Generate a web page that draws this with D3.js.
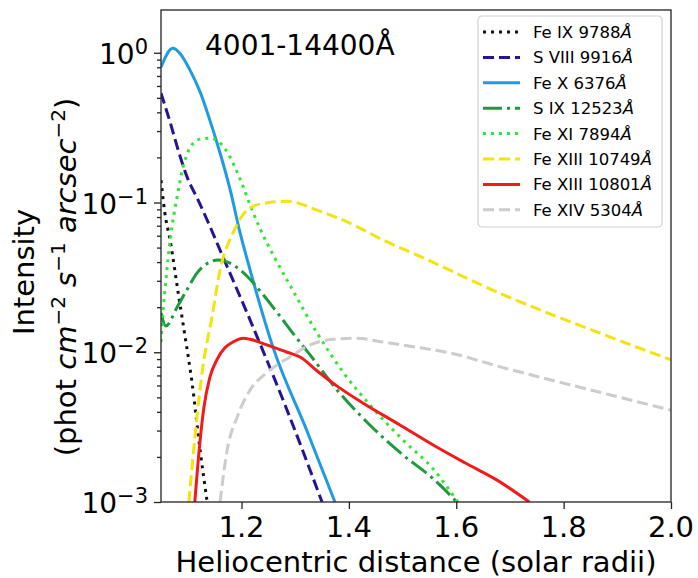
<!DOCTYPE html>
<html>
<head>
<meta charset="utf-8">
<script src="https://cdn.jsdelivr.net/npm/d3@7/dist/d3.min.js"></script>
<style>
  body { margin: 0; background: #fff; }
  text { font-family: "DejaVu Sans", sans-serif; fill: #000; }
</style>
</head>
<body>
<div class="main"></div>
<script>
// [heliocentric distance, intensity]
const feIX = [[1.05, 0.141], [1.057, 0.086], [1.067, 0.056], [1.082, 0.025], [1.093, 0.014],
  [1.108, 0.0062], [1.123, 0.0022], [1.136, 0.001]];
const sVIII = [[1.05, 0.537], [1.067, 0.344], [1.082, 0.224], [1.098, 0.15], [1.119, 0.104],
  [1.141, 0.0695], [1.16, 0.0481], [1.216, 0.0164], [1.281, 0.00445], [1.35, 0.001]];
const feX = [[1.05, 0.8], [1.072, 1.07], [1.085, 0.993], [1.104, 0.766], [1.123, 0.546],
  [1.141, 0.355], [1.16, 0.214], [1.179, 0.121], [1.197, 0.0634], [1.216, 0.0354], [1.259, 0.0107],
  [1.322, 0.00298], [1.374, 0.001]];
const sIX = [[1.05, 0.0183], [1.059, 0.015], [1.08, 0.02], [1.098, 0.026], [1.117, 0.0338],
  [1.141, 0.04], [1.156, 0.0413], [1.182, 0.0388], [1.21, 0.0323], [1.238, 0.0248], [1.266, 0.0185],
  [1.3, 0.0128], [1.328, 0.00957], [1.378, 0.0056], [1.439, 0.00327], [1.501, 0.00206],
  [1.557, 0.00143], [1.601, 0.001]];
const feXI = [[1.05, 0.0117], [1.054, 0.019], [1.059, 0.03], [1.067, 0.056], [1.08, 0.109],
  [1.091, 0.172], [1.11, 0.249], [1.123, 0.265], [1.141, 0.269], [1.156, 0.257], [1.171, 0.224],
  [1.186, 0.178], [1.201, 0.133], [1.216, 0.0962], [1.234, 0.0675], [1.262, 0.0426], [1.29, 0.0281],
  [1.341, 0.0134], [1.389, 0.00738], [1.439, 0.00445], [1.501, 0.00259], [1.557, 0.00166], [1.603, 0.001]];
const feXIII_10749 = [[1.102, 0.001], [1.109, 0.0019], [1.117, 0.0037], [1.128, 0.008], [1.145, 0.0172],
  [1.16, 0.0354], [1.184, 0.0625], [1.21, 0.0889], [1.234, 0.0975], [1.285, 0.102], [1.341, 0.0889],
  [1.402, 0.0728], [1.464, 0.0561], [1.527, 0.0446], [1.681, 0.0248], [1.868, 0.0134], [2.0, 0.0089]];
const feXIII_10801 = [[1.113, 0.001], [1.121, 0.0022], [1.13, 0.0043], [1.141, 0.0068], [1.154, 0.0089],
  [1.169, 0.0107], [1.184, 0.0117], [1.203, 0.0124], [1.216, 0.0122], [1.247, 0.0112], [1.285, 0.01],
  [1.309, 0.0093], [1.341, 0.0075], [1.378, 0.00594], [1.426, 0.00458], [1.495, 0.00327], [1.557, 0.0024],
  [1.617, 0.00182], [1.676, 0.0014], [1.736, 0.001]];
const feXIV = [[1.16, 0.001], [1.173, 0.0022], [1.192, 0.0037], [1.216, 0.0056], [1.247, 0.0073],
  [1.29, 0.0093], [1.328, 0.0112], [1.37, 0.0122], [1.415, 0.0124], [1.463, 0.0117], [1.527, 0.0108],
  [1.588, 0.0099], [1.687, 0.0079], [1.868, 0.0054], [2.0, 0.0041]];

const lineNames = ["Fe IX 9788", "S VIII 9916", "Fe X 6376", "S IX 12523", "Fe XI 7894",
  "Fe XIII 10749", "Fe XIII 10801", "Fe XIV 5304"];
const xTicks = [1.2, 1.4, 1.6, 1.8, 2.0];
const yTicks = [1e-3, 1e-2, 1e-1, 1];
const yTickExp = ["\u22123", "\u22122", "\u22121", "0"];

const colors = ["#111111", "#241596", "#1f9be0", "#1e9a3e", "#33e633", "#f2e40c", "#f21a1a", "#cccccc"];
const dashes = ["3,5", "11,5", null, "19,5,3,5", "3,5", "11,5", null, "11,5"];
const seriesData = [feIX, sVIII, feX, sIX, feXI, feXIII_10749, feXIII_10801, feXIV];

let margin = { top: 10, right: 27, bottom: 76, left: 161 };
let fullwidth = 698;
let fullheight = 578;
let width = fullwidth - margin.left - margin.right;
let height = fullheight - margin.top - margin.bottom;

const root = d3.select(".main").append("svg")
  .attr("width", fullwidth)
  .attr("height", fullheight);

const svg = root.append("g")
  .attr("transform", "translate(" + margin.left + "," + margin.top + ")");

const x = d3.scaleLinear().domain([1.05, 2.0]).range([0, width]);
const y = d3.scaleLog().domain([1e-3, 1.93]).range([height, 0]);

svg.append("clipPath").attr("id", "plotclip")
  .append("rect").attr("width", width).attr("height", height);

// minor log ticks
const minor = [];
[1e-3, 1e-2, 1e-1, 1].forEach((d) => {
  for (let k = 2; k <= 9; k++) if (d * k < 1.93) minor.push(d * k);
});

const yMinor = svg.append("g").call(d3.axisLeft(y).tickValues(minor).tickSize(4).tickFormat(""));
const yMajor = svg.append("g").call(d3.axisLeft(y).tickValues(yTicks).tickSize(7).tickFormat(""));
const xMajor = svg.append("g").attr("transform", "translate(0," + height + ")")
  .call(d3.axisBottom(x).tickValues(xTicks).tickSize(7).tickFormat(""));

[yMinor, yMajor, xMajor].forEach((g) => {
  g.select(".domain").remove();
  g.selectAll("line").attr("stroke", "#222").attr("stroke-width", 1.3);
});

// tick labels
svg.append("g").selectAll("text")
  .data(xTicks).join("text")
  .attr("x", (d) => x(d))
  .attr("y", height + 35)
  .attr("text-anchor", "middle")
  .style("font-size", "29px")
  .text((d) => d.toFixed(1));

const yl = svg.append("g").selectAll("text")
  .data(yTicks).join("text")
  .attr("x", -13)
  .attr("y", (d) => y(d) + 11)
  .attr("text-anchor", "end")
  .style("font-size", "28px");
yl.append("tspan").text("10");
yl.append("tspan").attr("dy", -10).style("font-size", "21px").text((d, i) => yTickExp[i]);

// lines
const line = d3.line()
  .x((d) => x(d[0]))
  .y((d) => y(d[1]))
  .curve(d3.curveMonotoneX);

svg.append("g").attr("clip-path", "url(#plotclip)")
  .selectAll("path")
  .data(seriesData).join("path")
  .attr("fill", "none")
  .attr("stroke", (d, i) => colors[i])
  .attr("stroke-width", 3)
  .attr("stroke-dasharray", (d, i) => dashes[i])
  .attr("d", line);

// frame
svg.append("rect")
  .attr("width", width).attr("height", height)
  .attr("fill", "none").attr("stroke", "#222").attr("stroke-width", 1.3);

// title
svg.append("text")
  .attr("x", 44).attr("y", 45)
  .style("font-size", "28px")
  .text("4001-14400\u00c5");

// legend
const lg = root.append("g").attr("transform", "translate(478,16)");
lg.append("rect")
  .attr("width", 184).attr("height", 211).attr("rx", 4)
  .attr("fill", "#fff").attr("fill-opacity", 0.8)
  .attr("stroke", "#d0d0d0").attr("stroke-width", 1.2);
const rows = lg.selectAll("g.row").data(lineNames).join("g")
  .attr("class", "row")
  .attr("transform", (d, i) => "translate(0," + (16 + i * 25.4) + ")");
rows.append("line")
  .attr("x1", 5).attr("x2", 42)
  .attr("stroke", (d, i) => colors[i])
  .attr("stroke-width", 3)
  .attr("stroke-dasharray", (d, i) => dashes[i]);
const lt = rows.append("text")
  .attr("x", 55).attr("y", 6)
  .style("font-size", "16.5px");
lt.append("tspan").text((d) => d);
lt.append("tspan").style("font-style", "italic").text("\u00c5");

// axis labels
root.append("text")
  .attr("x", margin.left + width / 2).attr("y", 572)
  .attr("text-anchor", "middle")
  .style("font-size", "29px")
  .text("Heliocentric distance (solar radii)");

root.append("text")
  .attr("transform", "translate(34,272) rotate(-90)")
  .attr("text-anchor", "middle")
  .style("font-size", "29px")
  .text("Intensity");

const yl2 = root.append("text")
  .attr("transform", "translate(76,277) rotate(-90)")
  .attr("text-anchor", "middle")
  .style("font-size", "29px");
yl2.append("tspan").text("(phot ");
yl2.append("tspan").style("font-style", "italic").text("cm");
yl2.append("tspan").attr("dy", -11).style("font-size", "20px").text("\u22122");
yl2.append("tspan").attr("dy", 11).text(" ");
yl2.append("tspan").style("font-style", "italic").text("s");
yl2.append("tspan").attr("dy", -11).style("font-size", "20px").text("\u22121");
yl2.append("tspan").attr("dy", 11).text(" ");
yl2.append("tspan").style("font-style", "italic").text("arcsec");
yl2.append("tspan").attr("dy", -11).style("font-size", "20px").text("\u22122");
yl2.append("tspan").attr("dy", 11).text(")");
</script>
</body>
</html>
